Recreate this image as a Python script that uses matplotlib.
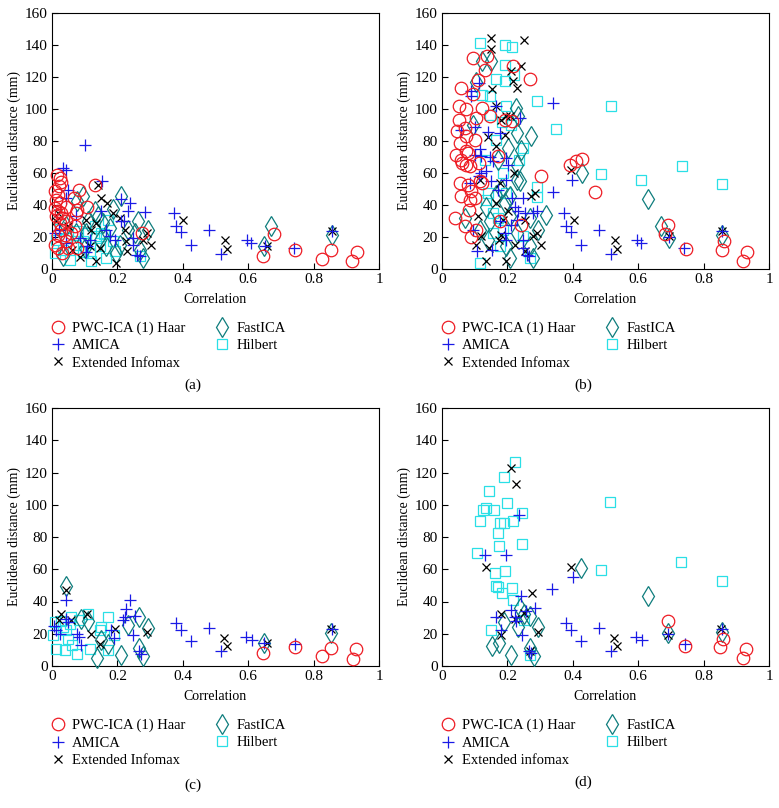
import matplotlib
matplotlib.use("Agg")
import matplotlib.pyplot as plt

plt.rcParams['font.family'] = ['Liberation Serif', 'DejaVu Serif']

# ---------------- Panel (a) ----------------
a_haar_corr = [0.015,0.023,0.029,0.022,0.008,0.019,0.011,0.023,0.008,0.018,0.029,0.013,0.034,0.023,0.044,0.029,0.018,0.039,0.008,0.018,0.032,0.044,0.059,0.069,0.072,0.077,0.066,0.083,0.107,0.131,0.077,0.049,0.044,0.276,0.644,0.68,0.744,0.827,0.852,0.918,0.932]
a_haar_dist = [59,56.9,54.2,51.7,48.5,46.5,43.3,41.3,38.1,36,35,33.3,31.9,28.8,29.8,24.6,21.5,21.5,15.2,13.1,10,17.3,22.5,26.7,35,37,44.4,49.6,39,52.7,13.1,13.1,39,22.5,7.9,21.9,12.1,6.5,11.7,4.8,10.4]
a_amica_corr = [0.1,0.034,0.042,0.154,0.049,0.044,0.212,0.24,0.233,0.285,0.151,0.22,0.21,0.164,0.177,0.192,0.248,0.248,0.261,0.268,0.115,0.085,0.107,0.103,0.008,0.021,0.074,0.044,0.374,0.378,0.394,0.424,0.48,0.516,0.595,0.61,0.651,0.74,0.855]
a_amica_dist = [77.3,63.1,61.7,55.2,49.6,44.4,43.8,41.3,36,35.4,36,29.8,29.8,24.6,20.4,18.3,19.4,15.2,9,7.9,18.3,19.4,14.2,10.6,22.5,24.6,33,16.3,35,26.7,22.9,15.2,24.6,9.6,18.3,16.3,14.2,13.1,23.5]
a_infomax_corr = [0.142,0.151,0.168,0.187,0.207,0.222,0.226,0.228,0.197,0.136,0.146,0.085,0.279,0.304,0.289,0.115,0.12,0.136,0.062,0.049,0.013,0.018,0.105,0.402,0.53,0.534,0.656,0.855]
a_infomax_dist = [52.3,44.4,41.3,35,31.9,24.6,17.3,11,3.8,4.8,13.1,7.3,18.3,15.2,22.5,14.2,24.6,28.8,12,26.7,29.8,35,30.8,30.8,17.9,12.5,14.2,23.5]
a_fastica_corr = [0.212,0.187,0.095,0.077,0.131,0.141,0.11,0.156,0.177,0.233,0.294,0.268,0.279,0.197,0.207,0.146,0.166,0.1,0.034,0.105,0.074,0.044,0.263,0.253,0.671,0.648,0.855]
a_fastica_dist = [45.4,37.5,45.4,42.3,36,32.9,29.8,28.8,25.6,24.6,24.6,12,6.9,10,15.2,18.3,14.2,13.1,7.9,22.5,22.5,26.7,29.8,22.5,27,14.2,21]
a_hilbert_corr = [0.054,0.12,0.166,0.268,0.008,0.013,0.044,0.074,0.095,0.105,0.136,0.151,0.171,0.187,0.146,0.115,0.192,0.131,0.08,0.095,0.034,0.025,0.16]
a_hilbert_dist = [5.8,4.8,7,8,10,18.3,19.4,15.2,17.3,22.5,19.4,22.5,30.8,17.3,14.2,10,11,26.7,23.8,10.6,12,25,22]

# ---------------- Panel (b) ----------------
b_haar_corr = [0.095,0.139,0.131,0.11,0.217,0.268,0.059,0.095,0.052,0.073,0.123,0.146,0.052,0.103,0.047,0.069,0.074,0.1,0.054,0.044,0.074,0.08,0.057,0.062,0.073,0.085,0.113,0.171,0.304,0.391,0.411,0.427,0.467,0.054,0.059,0.078,0.09,0.085,0.1,0.115,0.123,0.083,0.039,0.07,0.104,0.09,0.177,0.243,0.215,0.192,0.692,0.682,0.746,0.856,0.862,0.919,0.932]
b_haar_dist = [131.9,132.9,124.6,118,126.7,118.8,113,109.4,102,100,100.6,95.4,93.3,94.4,86,88,83,80.8,78.8,71.5,73.5,72.5,68,66,65,64.6,66,70.4,57.9,65.2,67.3,68.8,48,53.8,45.4,52.7,48.5,43.3,44.4,54.8,53.8,36.7,31.9,27,24.6,20,29.8,27.7,92.3,93.3,27.7,21.9,12.5,12,17.3,4.8,10.6]
b_amica_corr = [0.088,0.088,0.113,0.166,0.238,0.34,0.059,0.1,0.14,0.176,0.1,0.12,0.115,0.146,0.197,0.202,0.156,0.12,0.136,0.113,0.151,0.085,0.171,0.195,0.214,0.248,0.34,0.399,0.222,0.233,0.253,0.279,0.289,0.177,0.192,0.197,0.212,0.228,0.248,0.248,0.261,0.266,0.154,0.095,0.107,0.374,0.378,0.394,0.424,0.48,0.516,0.595,0.61,0.695,0.74,0.855]
b_amica_dist = [111,108,116,101.7,94.4,104,87,89,85.4,85,71.5,70.4,75,70,69.4,65.2,67.3,60,61,58.3,54.8,53.8,49.6,55.8,44.4,44.4,48,55.8,39,36,35,35,36,29.8,22.5,18.3,27.7,30.8,18.3,13,9,8,12,24.6,11,35,26.7,22.9,15.2,24.6,9.6,18.3,16.3,20,13.1,23.5]
b_infomax_corr = [0.151,0.151,0.25,0.243,0.212,0.217,0.228,0.153,0.166,0.14,0.166,0.192,0.197,0.18,0.207,0.219,0.396,0.177,0.115,0.284,0.273,0.202,0.166,0.186,0.173,0.18,0.11,0.12,0.105,0.144,0.136,0.197,0.222,0.253,0.279,0.289,0.304,0.255,0.404,0.53,0.534,0.695,0.855]
b_infomax_dist = [144.4,137.5,143,126.7,123.5,117.3,113,112.5,101.7,82.3,76.7,84,95.4,93.3,95.4,60,61.7,53.8,55.8,47.5,45.4,36,41,30.8,18.3,21.5,33,20.4,15.2,13,4.8,4.8,15.2,11,20.4,22.5,15.2,30.8,30.8,17.9,12.5,20.4,23.5]
b_fastica_corr = [0.123,0.151,0.103,0.226,0.233,0.273,0.202,0.243,0.228,0.171,0.228,0.427,0.228,0.238,0.166,0.207,0.136,0.192,0.207,0.319,0.268,0.069,0.146,0.115,0.141,0.294,0.279,0.207,0.197,0.268,0.228,0.63,0.671,0.695,0.855,0.095,0.18]
b_fastica_dist = [130,130,117,100.6,95.4,83.3,75.6,74.6,85,68.3,65,60,55.8,54.8,46.5,45.4,39,41.3,33,34,32,32,29.8,24.6,18.3,24.6,6.9,6.9,14.2,14.2,22.5,43.8,27,19.4,21,90,50]
b_hilbert_corr = [0.117,0.192,0.215,0.192,0.22,0.166,0.192,0.123,0.146,0.289,0.517,0.197,0.182,0.146,0.348,0.248,0.236,0.131,0.487,0.61,0.733,0.857,0.289,0.289,0.187,0.197,0.14,0.136,0.156,0.171,0.156,0.187,0.177,0.115,0.268,0.248,0.166,0.21]
b_hilbert_dist = [141.3,140,138.8,127.7,121.5,118.8,117.7,109,107.9,104.8,102,101.7,91.7,96.5,87.7,75.6,68.3,68.3,59.6,55.8,64.2,53.3,51.3,45,60,47.5,47.5,43.3,35,31.9,22.5,24.6,14.2,3.8,6.9,20.4,80.8,90]

# ---------------- Panel (c) ----------------
c_haar_corr = [0.644,0.744,0.827,0.853,0.919,0.931]
c_haar_dist = [8.1,11.8,6,11.4,4.6,10.4]
c_amica_corr = [0.006,0.013,0.023,0.042,0.042,0.049,0.076,0.084,0.09,0.181,0.191,0.217,0.223,0.226,0.239,0.247,0.255,0.267,0.272,0.379,0.395,0.425,0.481,0.517,0.593,0.611,0.649,0.744,0.855]
c_amica_dist = [24.7,22.2,20,40.8,29.4,27.4,20,18,12.8,22.2,17.6,28.4,30.5,35.6,41.2,19,30.9,9.3,7.7,26.7,22.6,15.3,23.8,9.3,18,16,14.3,13.5,22.8]
c_infomax_corr = [0.042,0.028,0.021,0.059,0.107,0.12,0.146,0.194,0.291,0.527,0.534,0.659,0.854]
c_infomax_dist = [47,32.5,28.8,28.8,32.5,19.7,13.9,23.2,21.1,17.6,12.2,14.3,22.8]
c_fastica_corr = [0.042,0.09,0.11,0.137,0.151,0.171,0.212,0.232,0.267,0.295,0.267,0.279,0.649,0.854]
c_fastica_dist = [49.5,29.4,28,5.2,16.4,13.5,7,25.3,30.5,23.6,11.2,6,14.3,20.7]
c_hilbert_corr = [0.003,0.008,0.011,0.039,0.044,0.049,0.059,0.062,0.054,0.084,0.077,0.11,0.115,0.146,0.151,0.171,0.171,0.191,0.034,0.027]
c_hilbert_dist = [19,27.4,10.8,9.7,22.2,17,30.5,12.8,25.9,28.4,7.3,32.5,10.8,22.2,24.2,30.5,10.2,19,24.2,28]

# ---------------- Panel (d) ----------------
d_haar_corr = [0.69,0.744,0.85,0.858,0.919,0.931]
d_haar_dist = [27.8,12.2,11.8,17,5.2,10.8]
d_amica_corr = [0.133,0.197,0.237,0.336,0.4,0.242,0.166,0.18,0.222,0.225,0.258,0.283,0.244,0.266,0.272,0.212,0.379,0.395,0.425,0.481,0.517,0.593,0.611,0.69,0.744,0.855]
d_amica_dist = [68.8,68.8,93.7,47.7,55.3,43.3,30.5,22.6,30.1,28,34.2,35.7,19.1,9.1,8.2,35,26.7,22.6,15.3,23.8,9.3,18,16,20,13.5,22.8]
d_infomax_corr = [0.21,0.227,0.135,0.276,0.181,0.179,0.293,0.222,0.252,0.393,0.268,0.527,0.534,0.69,0.854]
d_infomax_dist = [122.7,112.7,61.5,45.4,32.1,19.1,21.1,29,32.6,61.5,9.1,17.6,12.2,19.5,22.8]
d_fastica_corr = [0.425,0.24,0.252,0.27,0.189,0.232,0.295,0.153,0.173,0.21,0.268,0.28,0.629,0.69,0.855]
d_fastica_dist = [60.5,35.7,32.1,31,27.3,24.2,24.2,12.2,14.3,7.1,11.2,6,43.5,20.5,21]
d_hilbert_corr = [0.222,0.189,0.143,0.135,0.125,0.159,0.198,0.245,0.115,0.176,0.191,0.217,0.171,0.174,0.244,0.108,0.161,0.194,0.164,0.171,0.183,0.214,0.217,0.149,0.25,0.268,0.513,0.486,0.73,0.855]
d_hilbert_dist = [126.3,117.5,108.6,98.2,96.8,96.8,101.3,94.7,90.1,88.9,88.9,90.1,82.3,74.4,75.4,69.9,57.8,59,49.5,49.1,45.4,48.1,40.8,22.2,28.8,7.1,102,59.5,64.2,53]

panel_tags = ['(a)', '(b)', '(c)', '(d)']
labels_abc = ['PWC-ICA (1) Haar', 'AMICA', 'Extended Infomax', 'FastICA', 'Hilbert']
labels_d = ['PWC-ICA (1) Haar', 'AMICA', 'Extended infomax', 'FastICA', 'Hilbert']
x_ticks = [0, 0.2, 0.4, 0.6, 0.8, 1]
x_ticklabels = ['0', '0.2', '0.4', '0.6', '0.8', '1']
y_ticks = [0, 20, 40, 60, 80, 100, 120, 140, 160]

# marker styles per method
styles = [
    dict(marker='o', ms=9, mfc='none', mec='#ee1c24', mew=0.9),
    dict(marker='+', ms=8.5, mec='#1a1ae6', mew=0.9),
    dict(marker='x', ms=6, mec='black', mew=0.9),
    dict(marker='d', ms=10, mfc='none', mec='#0f7d7d', mew=0.9),
    dict(marker='s', ms=7, mfc='none', mec='#2adfe6', mew=0.9),
]
zorders = [7, 6, 5, 4, 3]

panels = [
    [(a_haar_corr, a_haar_dist), (a_amica_corr, a_amica_dist), (a_infomax_corr, a_infomax_dist), (a_fastica_corr, a_fastica_dist), (a_hilbert_corr, a_hilbert_dist)],
    [(b_haar_corr, b_haar_dist), (b_amica_corr, b_amica_dist), (b_infomax_corr, b_infomax_dist), (b_fastica_corr, b_fastica_dist), (b_hilbert_corr, b_hilbert_dist)],
    [(c_haar_corr, c_haar_dist), (c_amica_corr, c_amica_dist), (c_infomax_corr, c_infomax_dist), (c_fastica_corr, c_fastica_dist), (c_hilbert_corr, c_hilbert_dist)],
    [(d_haar_corr, d_haar_dist), (d_amica_corr, d_amica_dist), (d_infomax_corr, d_infomax_dist), (d_fastica_corr, d_fastica_dist), (d_hilbert_corr, d_hilbert_dist)],
]

W, H = 779, 808
fig = plt.figure(figsize=(W / 100, H / 100), dpi=100)

# pixel boxes: left, top, right, bottom
boxes = [(52, 13, 379, 269), (442, 13, 769, 269), (52, 408, 379, 666), (442, 408, 769, 666)]
tag_pos = [(193, 385), (583, 385), (193, 785), (583, 782)]

for i, (box, series) in enumerate(zip(boxes, panels)):
    l, t, r, b = box
    ax = fig.add_axes([l / W, 1 - b / H, (r - l) / W, (b - t) / H])
    handles = []
    for k, (xs, ys) in enumerate(series):
        h, = ax.plot(xs, ys, linestyle='none', zorder=zorders[k], clip_on=False, **styles[k])
        handles.append(h)
    ax.set_xlim(0, 1)
    ax.set_ylim(0, 160)
    ax.set_xticks(x_ticks)
    ax.set_xticklabels(x_ticklabels)
    ax.set_yticks(y_ticks)
    ax.tick_params(direction='in', length=4, width=0.8, labelsize=11, pad=3,
                   top=False, right=False)
    for s in ax.spines.values():
        s.set_linewidth(0.8)
    ax.set_xlabel('Correlation', fontsize=10, labelpad=5)
    ax.set_ylabel('Euclidean distance (mm)', fontsize=10, labelpad=3)
    labs = labels_d if i == 3 else labels_abc
    ax.legend(handles, labs, ncol=2, loc='upper left',
              bbox_to_anchor=(-0.005, -0.205), frameon=False, fontsize=10.5,
              handlelength=1.0, handletextpad=0.5, columnspacing=2.0,
              labelspacing=0.28, borderpad=0, borderaxespad=0)
    fig.text(tag_pos[i][0] / W, 1 - tag_pos[i][1] / H, panel_tags[i],
             ha='center', va='center', fontsize=11)

fig.savefig('out.png', dpi=100)
